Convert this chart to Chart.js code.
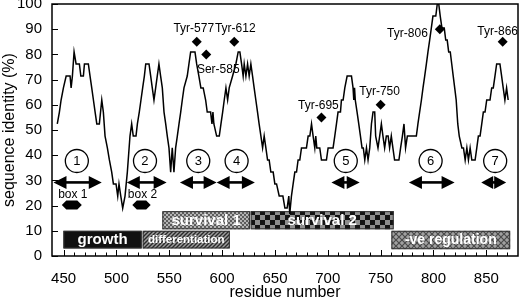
<!DOCTYPE html>
<html>
<head>
<meta charset="utf-8">
<script src="https://cdn.jsdelivr.net/npm/chart.js@4/dist/chart.umd.min.js"></script>
<style>
html,body{margin:0;padding:0;background:#fff;}
canvas{display:block;}
</style>
</head>
<body>
<canvas id="c" width="520" height="301"></canvas>
<script>
// ---------- DATA ----------
const residues = [444,446,447.6,449.8,452.4,456.1,457.1,458.3,459.9,461.8,464.9,466.3,468.7,469.7,473.4,475,476.6,478.2,479.8,481.4,483.8,486.1,487.6,489.2,491.4,493.3,495.5,497.1,499.6,501.2,502.4,504.1,505.9,508.1,510.3,512.8,514.4,515.9,518.5,519.8,521.6,523.2,524.8,526.4,527.7,530.8,532.4,533.9,535.5,537.1,538.6,540.2,541.8,543.4,545,546.6,548.1,549.7,551.3,552.8,554.4,556,557.6,559.2,560.8,562.3,563.9,567,568.6,570.2,574.3,575.9,578,579.9,582.1,584.4,585.9,589.1,590.4,591.3,592.2,594.8,597.3,598.9,600.5,602,603.6,605.2,606.7,609.9,613,615.2,616.8,618.4,619.9,620.9,622.5,624.1,625.6,627.2,628.8,630.3,631.9,633.5,635,636.7,638.3,639.8,641.4,643,644.5,646.1,648.3,649.9,651.5,654,657.5,659.4,661.5,663.1,664,665.6,667.2,668.8,670.4,671.9,673.5,675.1,679.8,681.4,683,684.6,686.1,687.7,688.6,689.6,692.4,694,698.7,700.3,705,706.6,708.2,709.7,712,712.9,714.5,716.1,718.3,722.4,723.9,724.6,725.3,726,727.7,729.3,730.9,732.4,733.6,735,736.6,738.1,739.7,741.3,742.8,744.4,745.3,747.5,749.1,750.7,752.2,753.8,755.4,757.1,758.5,760.1,761.6,763.2,767.3,768.9,770.6,772.1,773.6,775.3,783.8,785.3,786.9,788.6,790.1,791.7,793.3,794.8,796.4,798,799.5,802.2,803.6,805,806.4,808,810.2,811.6,813,814.4,815.9,817.3,818.7,820.1,821.5,823,824.4,826.9,828.4,830,831.6,833.1,834.7,836.3,839.4,841,842.5,844.1,845.7,847.2,848.8,850.4,853.5,855.1,856.6,858.2,859.8,862.9,864.5,866,867.6,869.2,870.7];
const identity = [52.4,57.1,61.9,66.7,71.4,71.4,66.7,71.4,81,76.2,76.2,71.4,71.4,76.2,76.2,71.4,66.7,61.9,57.1,52.4,52.4,61.9,57.1,47.6,42.9,38.1,33.3,28.6,28.6,23.8,28.6,23.8,19,23.8,33.3,47.6,52.4,47.6,47.6,52.4,57.1,61.9,66.7,71.4,76.2,76.2,71.4,66.7,61.9,66.7,71.4,76.2,71.4,66.7,57.1,52.4,47.6,42.9,33.3,42.9,33.3,42.9,47.6,52.4,57.1,61.9,66.7,71.4,76.2,81,81,76.2,71.4,66.7,66.7,61.9,57.1,57.1,52.4,57.1,52.4,47.6,47.6,52.4,57.1,61.9,66.7,61.9,66.7,71.4,76.2,81,81,76.2,71.4,76.2,71.4,76.2,71.4,76.2,71.4,66.7,61.9,57.1,52.4,47.6,42.9,47.6,42.9,38.1,38.1,33.3,33.3,28.6,28.6,23.8,23.8,19,19,23.8,16.7,23.8,28.6,33.3,33.3,38.1,38.1,42.9,42.9,47.6,47.6,52.4,47.6,42.9,47.6,42.9,42.9,38.1,38.1,42.9,42.9,47.6,52.4,57.1,57.1,61.9,61.9,66.7,71.4,71.4,66.7,61.9,66.7,61.9,57.1,52.4,47.6,42.9,42.9,38.1,42.9,38.1,42.9,52.4,57.1,57.1,47.6,42.9,47.6,52.4,47.6,42.9,47.6,47.6,42.9,47.6,42.9,38.1,38.1,42.9,47.6,52.4,42.9,47.6,47.6,52.4,57.1,61.9,66.7,71.4,76.2,81,85.7,90.5,95.2,95.2,100,100,95.2,90.5,90.5,85.7,85.7,81,81,76.2,71.4,66.7,61.9,52.4,47.6,42.9,42.9,38.1,42.9,38.1,42.9,38.1,38.1,42.9,47.6,47.6,52.4,57.1,57.1,61.9,61.9,66.7,66.7,71.4,76.2,76.2,71.4,66.7,61.9,66.7,61.9];

const xTickValues = [450,500,550,600,650,700,750,800,850];
const yTickValues = [0,10,20,30,40,50,60,70,80,90,100];

const siteLabels   = ['Tyr-577','Ser-585','Tyr-612','Tyr-695','Tyr-750','Tyr-806','Tyr-866'];
const siteResidues = [576,585,611.5,694,750,806,865.5];
const siteValues   = [85,80,85,55,60,90,85];

const regionNumbers  = ['1','2','3','4','5','6','7'];
const regionCenters  = [462.5,527,577.4,613.7,717,797.3,858.4];
const regionLevel    = 37.7;
const arrowStarts    = [440.4,509.8,560.1,594.8,703.4,776.8,845.2];
const arrowEnds      = [486.1,547.5,594.8,631,730.2,820,868.8];
const arrowLevel     = 29.2;

const boxLabels = ['box 1','box 2'];
const boxStarts = [448.3,515];
const boxEnds   = [467.2,532.4];
const boxLevel  = 20.2;
const boxLabelLevel = 24.3;

const domainLabels = ['growth','differentiation','survival 1','survival 2','-ve regulation'];
const domainStarts = [449.8,524.8,543.4,627,760.2];
const domainEnds   = [523.9,607.3,626.3,762.4,872.6];
const domainLows   = [3,3,10.6,10.6,2.7];
const domainHighs  = [10,10,17.8,17.8,10];

// ---------- STYLE ----------
const FONT = '"Liberation Sans", Arial, Helvetica, sans-serif';
Chart.defaults.font.family = FONT;
Chart.defaults.color = '#000';
// label offsets in px relative to diamond: [dx, dy, align]
const siteLabelOffsets = [[-3,-13,'center'],[12,15,'center'],[1,-13,'center'],[-3,-12,'center'],[-1,-13,'center'],[-12,4,'right'],[-5,-10,'center']];
const domainFonts = ['bold 15px','bold 11.5px','bold 15px','bold 15px','bold 14px'];

const canvas = document.getElementById('c');
const ctx = canvas.getContext('2d');

function makePattern(w, h, draw) {
  const c = document.createElement('canvas'); c.width = w; c.height = h;
  const g = c.getContext('2d'); draw(g); return ctx.createPattern(c, 'repeat');
}
const patDiff = makePattern(4,4,g=>{
  g.fillStyle='#9c9c9c'; g.fillRect(0,0,4,4);
  g.strokeStyle='#2a2a2a'; g.lineWidth=1.4;
  g.beginPath(); g.moveTo(-1,5); g.lineTo(5,-1); g.moveTo(-1,1); g.lineTo(1,-1); g.moveTo(3,5); g.lineTo(5,3); g.stroke();
});
const patSurv1 = makePattern(4,4,g=>{
  g.fillStyle='#5c5c5c'; g.fillRect(0,0,4,4);
  g.fillStyle='#b4b4b4'; g.fillRect(0,0,2,2); g.fillRect(2,2,2,2);
});
const patSurv2 = makePattern(10,10,g=>{
  g.fillStyle='#8e8e8e'; g.fillRect(0,0,10,10);
  g.fillStyle='#141414'; g.fillRect(0,0,5,5); g.fillRect(5,5,5,5);
});
const patNeg = makePattern(6,6,g=>{
  g.fillStyle='#a0a0a0'; g.fillRect(0,0,6,6);
  g.strokeStyle='#4a4a4a'; g.lineWidth=1.2;
  g.beginPath(); g.moveTo(0,0); g.lineTo(6,6); g.moveTo(6,0); g.lineTo(0,6); g.stroke();
});
const domainFills = ['#111111', patDiff, patSurv1, patSurv2, patNeg];

const annotPlugin = {
  id: 'annot',
  beforeDatasetsDraw(chart) {
    const g = chart.ctx, xs = chart.scales.x, ys = chart.scales.y;
    g.save();
    domainLabels.forEach((lab, i) => {
      const x1 = xs.getPixelForValue(domainStarts[i]), x2 = xs.getPixelForValue(domainEnds[i]);
      const y1 = ys.getPixelForValue(domainHighs[i]), y2 = ys.getPixelForValue(domainLows[i]);
      g.fillStyle = domainFills[i];
      g.fillRect(x1, y1, x2 - x1, y2 - y1);
      g.strokeStyle = '#333'; g.lineWidth = 1;
      g.strokeRect(x1 + 0.5, y1 + 0.5, x2 - x1 - 1, y2 - y1 - 1);
      g.font = domainFonts[i] + ' ' + FONT;
      g.textAlign = 'center'; g.textBaseline = 'middle';
      g.fillStyle = '#fff';
      g.fillText(lab, (x1 + x2) / 2, (y1 + y2) / 2 + 0.5);
    });
    g.restore();
  },
  afterDatasetsDraw(chart) {
    const g = chart.ctx, xs = chart.scales.x, ys = chart.scales.y, a = chart.chartArea;
    g.save();
    g.strokeStyle = '#000'; g.lineWidth = 1.5;
    g.strokeRect(a.left, a.top, a.right - a.left, a.bottom - a.top);
    g.lineWidth = 1;
    g.beginPath();
    yTickValues.forEach(v => { const y = Math.round(ys.getPixelForValue(v)) + 0.5; g.moveTo(a.left, y); g.lineTo(a.left + 6, y); });
    for (let r = 450; r <= 870; r += 10) {
      const x = Math.round(xs.getPixelForValue(r)) + 0.5;
      const len = (r % 50 === 0) ? 6 : 3.5;
      g.moveTo(x, a.bottom); g.lineTo(x, a.bottom - len);
    }
    g.stroke();
    g.font = '12px ' + FONT; g.fillStyle = '#000'; g.textBaseline = 'middle';
    siteLabels.forEach((lab, i) => {
      const x = xs.getPixelForValue(siteResidues[i]), y = ys.getPixelForValue(siteValues[i]);
      const o = siteLabelOffsets[i];
      g.textAlign = o[2];
      g.fillText(lab, x + o[0], y + o[1]);
    });
    g.font = '13px ' + FONT; g.textAlign = 'center';
    regionNumbers.forEach((n, i) => {
      g.fillText(n, xs.getPixelForValue(regionCenters[i]), ys.getPixelForValue(regionLevel) + 0.5);
    });
    g.fillStyle = '#000';
    arrowStarts.forEach((s, i) => {
      const x1 = xs.getPixelForValue(s), x2 = xs.getPixelForValue(arrowEnds[i]);
      const y = ys.getPixelForValue(arrowLevel);
      let hl = 13; if (x2 - x1 < 2 * hl + 2) hl = (x2 - x1) / 2 - 0.5;
      const hh = 6.5;
      g.beginPath();
      g.moveTo(x1, y); g.lineTo(x1 + hl, y - hh); g.lineTo(x1 + hl, y + hh); g.closePath();
      g.moveTo(x2, y); g.lineTo(x2 - hl, y - hh); g.lineTo(x2 - hl, y + hh); g.closePath();
      g.fill();
      g.fillRect(x1 + hl - 1, y - 1.3, (x2 - x1) - 2 * hl + 2, 2.6);
    });
    g.font = '12px ' + FONT; g.textAlign = 'center';
    boxLabels.forEach((lab, i) => {
      const x1 = xs.getPixelForValue(boxStarts[i]), x2 = xs.getPixelForValue(boxEnds[i]);
      const y = ys.getPixelForValue(boxLevel), h = 4.5, p = 4.5;
      g.beginPath();
      g.moveTo(x1, y); g.lineTo(x1 + p, y - h); g.lineTo(x2 - p, y - h); g.lineTo(x2, y);
      g.lineTo(x2 - p, y + h); g.lineTo(x1 + p, y + h); g.closePath(); g.fill();
      g.fillText(lab, (x1 + x2) / 2 + 1, ys.getPixelForValue(boxLabelLevel));
    });
    g.restore();
  }
};

new Chart(ctx, {
  type: 'scatter',
  data: {
    datasets: [
      {
        type: 'scatter',
        data: regionCenters.map(r => ({x: r, y: regionLevel})),
        pointStyle: 'circle', pointRadius: 11.5, backgroundColor: '#fff', borderColor: '#000', borderWidth: 1.3,
        order: 1
      },
      {
        type: 'scatter',
        data: siteResidues.map((r, i) => ({x: r, y: siteValues[i]})),
        pointStyle: 'rectRot', pointRadius: 5, backgroundColor: '#000', borderColor: '#000', borderWidth: 0,
        order: 2
      },
      {
        type: 'line',
        data: residues.map((r, i) => ({x: r, y: identity[i]})),
        borderColor: '#000', borderWidth: 1.5, pointRadius: 0, tension: 0, fill: false,
        order: 3
      }
    ]
  },
  options: {
    responsive: false, animation: false,
    layout: {autoPadding: false, padding: {top: 4, right: 2, left: 0, bottom: 0}},
    plugins: {legend: {display: false}, tooltip: {enabled: false}},
    scales: {
      x: {
        type: 'linear', min: 439, max: 880,
        afterBuildTicks: s => { s.ticks = xTickValues.map(v => ({value: v})); },
        afterFit: s => { s.height = 45; s.paddingLeft = 0; s.paddingRight = 0; },
        grid: {display: false, drawTicks: false},
        border: {display: false},
        ticks: {font: {size: 15}, color: '#000', padding: 14, maxRotation: 0, autoSkip: false},
        title: {display: true, text: 'residue number', font: {size: 16, lineHeight: 1}, color: '#000', padding: {top: 0, bottom: 0}}
      },
      y: {
        type: 'linear', min: 0, max: 100,
        afterBuildTicks: s => { s.ticks = yTickValues.map(v => ({value: v})); },
        afterFit: s => { s.width = 52; s.paddingTop = 0; s.paddingBottom = 0; },
        grid: {display: false, drawTicks: false},
        border: {display: false},
        ticks: {font: {size: 15}, color: '#000', padding: 10},
        title: {display: true, text: 'sequence identity (%)', font: {size: 16}, color: '#000', padding: {top: 0, bottom: 0}}
      }
    }
  },
  plugins: [annotPlugin]
});
</script>
</body>
</html>
